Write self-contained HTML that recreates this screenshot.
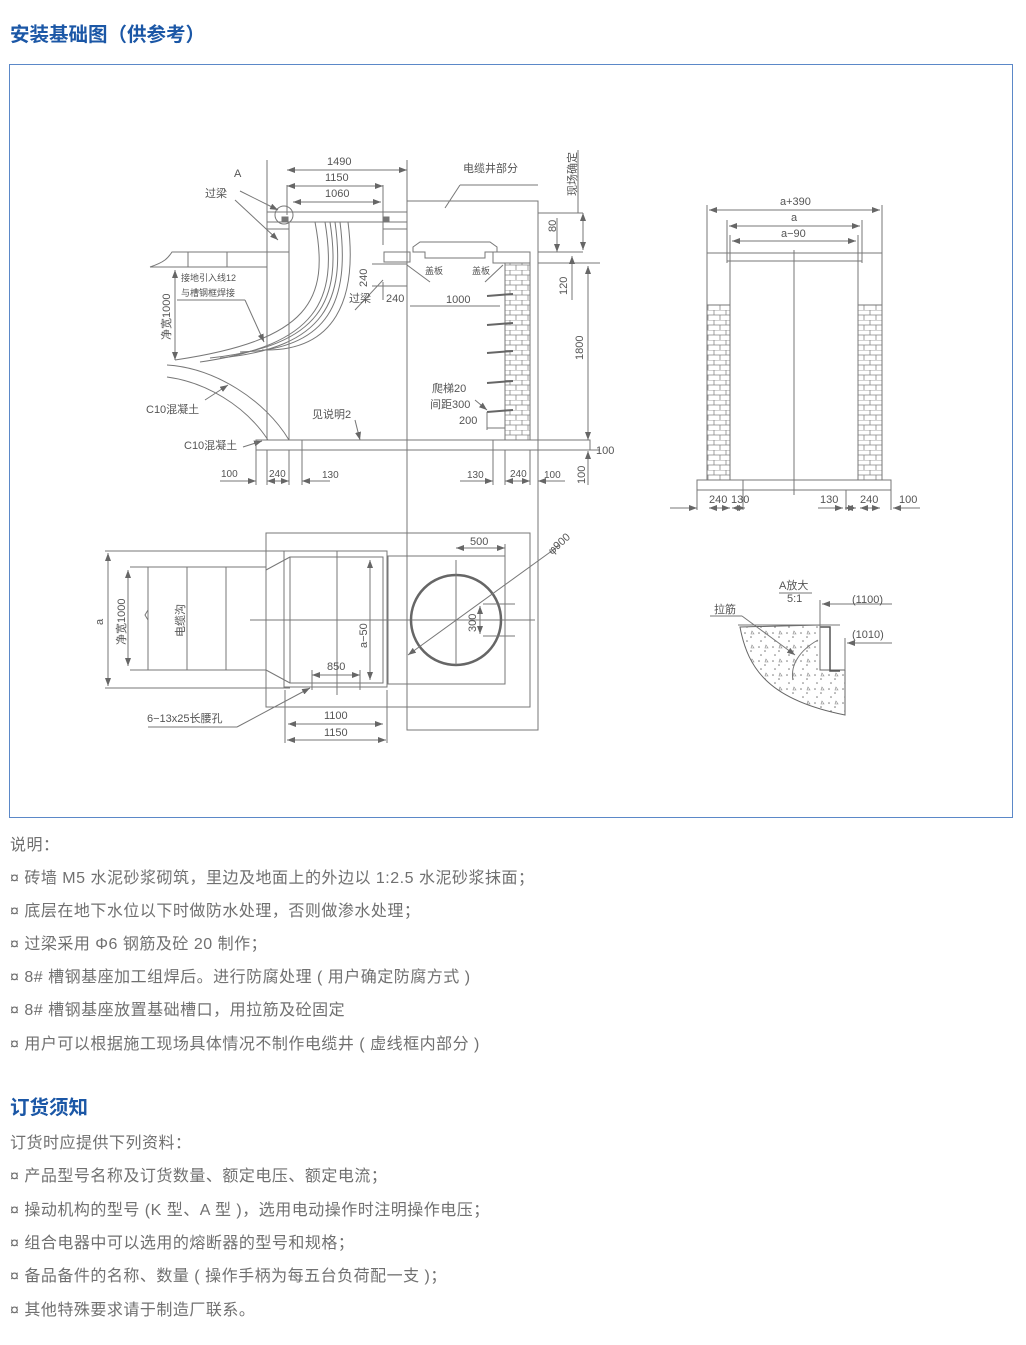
<!DOCTYPE html>
<html><head><meta charset="utf-8"><style>
body{margin:0;width:1026px;height:1345px;background:#fff;position:relative;font-family:"Liberation Sans","Noto Sans CJK SC",sans-serif;overflow:hidden}
.h{position:absolute;left:10px;font-size:19.5px;font-weight:bold;color:#1b57a6;margin:0;line-height:24px}
.box{position:absolute;left:9px;top:64px;width:1004px;height:754px;border:1px solid #5b88c8;box-sizing:border-box}
.t{position:absolute;left:10px;font-size:16px;color:#707070;line-height:20px;white-space:nowrap;letter-spacing:0.5px}
svg{position:absolute;left:0;top:0}
svg text{font-family:"Liberation Sans","Noto Sans CJK SC",sans-serif;font-size:11px;fill:#555}
</style></head><body>
<div class="h" style="top:23px">安装基础图（供参考）</div>
<div class="box"></div>
<svg width="1026" height="830" viewBox="0 0 1026 830">
<defs>
<pattern id="brk" width="12" height="10" patternUnits="userSpaceOnUse">
<rect width="12" height="10" fill="#fff"/>
<path d="M0 0H12M0 5H12M6 0V5M0 5V10M12 5V10" stroke="#888" stroke-width="0.8" fill="none"/>
</pattern>
<marker id="a" markerWidth="8" markerHeight="6" refX="8" refY="3" orient="auto-start-reverse" markerUnits="userSpaceOnUse"><path d="M0 0L8 3L0 6z" fill="#666"/></marker>
<pattern id="conc" width="14" height="14" patternUnits="userSpaceOnUse"><rect width="14" height="14" fill="#fff"/><circle cx="3" cy="3" r="0.8" fill="#777"/><circle cx="9" cy="7" r="0.8" fill="#777"/><circle cx="5" cy="11" r="0.8" fill="#777"/><path d="M10 1l2 3h-3z" fill="none" stroke="#888" stroke-width="0.6"/></pattern>
</defs>
<g stroke="#777" stroke-width="1" fill="none">
<line x1="267" y1="160" x2="267" y2="440"/>
<line x1="289" y1="222" x2="289" y2="440"/>
<line x1="407" y1="160" x2="407" y2="730"/>
<line x1="383" y1="185" x2="383" y2="245"/>
<line x1="287" y1="185" x2="287" y2="215"/>
<rect x="267" y="212" width="140" height="10"/>
<line x1="267" y1="229" x2="289" y2="229"/>
<line x1="383" y1="229" x2="407" y2="229"/>
<circle cx="284" cy="215" r="9"/>
<path d="M282 217h6v4h-6zM383 217h6v4h-6z" fill="#777"/>
<line x1="287" y1="170" x2="407" y2="170" marker-start="url(#a)" marker-end="url(#a)"/>
<line x1="287" y1="186" x2="383" y2="186" marker-start="url(#a)" marker-end="url(#a)"/>
<line x1="293" y1="202" x2="381" y2="202" marker-start="url(#a)" marker-end="url(#a)"/>
<path d="M150 267 C165 262 168 258 172 252 H289"/>
<line x1="150" y1="267" x2="267" y2="267"/>
<line x1="188" y1="252" x2="188" y2="267"/><line x1="227" y1="252" x2="227" y2="267"/>
<path d="M315 222 C330 300 310 340 175 360"/>
<path d="M325 222 C338 300 318 345 200 362"/>
<path d="M330 222 C342 300 322 346 210 358"/>
<path d="M335 222 C346 300 326 348 220 358"/>
<path d="M340 222 C350 300 330 350 240 352"/>
<path d="M348 222 C358 300 335 352 262 350"/>
<path d="M167 365 C215 368 265 400 289 440"/>
<path d="M167 377 C205 382 245 405 268 440"/>
<line x1="175" y1="270" x2="175" y2="360" marker-start="url(#a)" marker-end="url(#a)"/>
<line x1="177" y1="300" x2="245" y2="300"/><line x1="245" y1="300" x2="264" y2="342" marker-end="url(#a)"/>
<line x1="240" y1="191" x2="278" y2="210" marker-end="url(#a)"/>
<line x1="235" y1="200" x2="278" y2="240" marker-end="url(#a)"/>
<line x1="205" y1="400" x2="228" y2="385" marker-end="url(#a)"/>
<line x1="243" y1="447" x2="262" y2="441" marker-end="url(#a)"/>
<rect x="407" y="201" width="131" height="529"/>
<line x1="445" y1="208" x2="460" y2="185" /><line x1="460" y1="185" x2="538" y2="185"/>
<line x1="538" y1="213" x2="583" y2="213"/>
<line x1="538" y1="252" x2="583" y2="252"/>
<line x1="538" y1="263" x2="600" y2="263"/>
<line x1="578" y1="150" x2="578" y2="213"/>
<line x1="557" y1="218" x2="557" y2="252" marker-end="url(#a)"/>
<line x1="583" y1="213" x2="583" y2="250" marker-start="url(#a)" marker-end="url(#a)"/>
<line x1="572" y1="256" x2="572" y2="300" marker-start="url(#a)"/>
<line x1="588" y1="266" x2="588" y2="440" marker-start="url(#a)" marker-end="url(#a)"/>
<line x1="588" y1="451" x2="588" y2="485" marker-start="url(#a)"/>
<path d="M384 252H410V262H384z"/>
<path d="M413 247L420 242H490L497 247V252H485V258H425V252H413z"/>
<path d="M493 252H530V263H493z"/>
<rect x="505" y="263" width="25" height="177" fill="url(#brk)"/>
<line x1="407" y1="265" x2="430" y2="282"/><line x1="503" y1="265" x2="485" y2="282"/>
<line x1="372" y1="264" x2="407" y2="264"/><line x1="372" y1="286" x2="407" y2="286"/>
<line x1="383" y1="280" x2="355" y2="310"/><line x1="383" y1="300" x2="383" y2="282"/>
<line x1="410" y1="306" x2="500" y2="306"/>
<g stroke="#666" stroke-width="2"><line x1="487" y1="296" x2="513" y2="294"/><line x1="487" y1="325" x2="513" y2="323"/><line x1="487" y1="353" x2="513" y2="351"/><line x1="487" y1="383" x2="513" y2="381"/><line x1="487" y1="412" x2="513" y2="410"/></g>
<line x1="475" y1="400" x2="487" y2="410" marker-end="url(#a)"/>
<line x1="487" y1="412" x2="487" y2="430"/><line x1="487" y1="428" x2="505" y2="428"/>
<line x1="355" y1="420" x2="360" y2="440" marker-end="url(#a)"/>
<rect x="256" y="440" width="334" height="10"/>
<line x1="256" y1="450" x2="256" y2="485"/><line x1="267" y1="450" x2="267" y2="485"/><line x1="289" y1="450" x2="289" y2="485"/><line x1="302" y1="440" x2="302" y2="485"/>
<line x1="493" y1="440" x2="493" y2="485"/><line x1="505" y1="450" x2="505" y2="485"/><line x1="530" y1="450" x2="530" y2="485"/><line x1="538" y1="440" x2="538" y2="485"/>
<line x1="220" y1="481" x2="256" y2="481" marker-end="url(#a)"/>
<line x1="267" y1="481" x2="289" y2="481" marker-start="url(#a)" marker-end="url(#a)"/>
<line x1="302" y1="481" x2="330" y2="481" marker-start="url(#a)"/>
<line x1="460" y1="481" x2="493" y2="481" marker-end="url(#a)"/>
<line x1="505" y1="481" x2="530" y2="481" marker-start="url(#a)" marker-end="url(#a)"/>
<line x1="538" y1="481" x2="565" y2="481" marker-start="url(#a)"/>
<line x1="538" y1="450" x2="600" y2="450"/>
<rect x="266" y="533" width="264" height="174"/>
<rect x="284" y="551" width="103" height="136"/>
<rect x="290" y="557" width="93" height="126"/>
<rect x="148" y="567" width="118" height="103"/>
<line x1="187" y1="567" x2="187" y2="670"/><line x1="226" y1="567" x2="226" y2="670"/>
<line x1="266" y1="570" x2="290" y2="557"/><line x1="266" y1="670" x2="290" y2="683"/>
<line x1="105" y1="551" x2="290" y2="551"/><line x1="105" y1="688" x2="290" y2="688"/>
<line x1="108" y1="553" x2="108" y2="686" marker-start="url(#a)" marker-end="url(#a)"/>
<line x1="130" y1="567" x2="148" y2="567"/><line x1="130" y1="670" x2="148" y2="670"/>
<line x1="128" y1="570" x2="128" y2="666" marker-start="url(#a)" marker-end="url(#a)"/>
<path d="M148 610 l-3 5 l3 5"/>
<line x1="250" y1="620" x2="535" y2="620"/>
<line x1="337" y1="551" x2="337" y2="695"/>
<line x1="370" y1="560" x2="370" y2="680" marker-start="url(#a)" marker-end="url(#a)"/>
<line x1="312" y1="675" x2="360" y2="675" marker-start="url(#a)" marker-end="url(#a)"/>
<line x1="312" y1="670" x2="312" y2="690"/><line x1="360" y1="670" x2="360" y2="690"/>
<line x1="148" y1="727" x2="237" y2="727"/><line x1="237" y1="727" x2="310" y2="688" marker-end="url(#a)"/>
<line x1="285" y1="690" x2="285" y2="743"/><line x1="387" y1="690" x2="387" y2="743"/>
<line x1="288" y1="724" x2="383" y2="724" marker-start="url(#a)" marker-end="url(#a)"/>
<line x1="287" y1="740" x2="386" y2="740" marker-start="url(#a)" marker-end="url(#a)"/>
<rect x="388" y="556" width="117" height="128"/>
<circle cx="456" cy="620" r="45" stroke="#666" stroke-width="2.5"/>
<line x1="456" y1="560" x2="456" y2="665"/>
<line x1="456" y1="548" x2="505" y2="548" marker-start="url(#a)" marker-end="url(#a)"/>
<line x1="505" y1="544" x2="505" y2="556"/>
<line x1="408" y1="655" x2="560" y2="545" marker-start="url(#a)"/>
<line x1="483" y1="604" x2="515" y2="604"/><line x1="483" y1="636" x2="515" y2="636"/>
<line x1="480" y1="606" x2="480" y2="634" marker-start="url(#a)" marker-end="url(#a)"/>
<line x1="707" y1="205" x2="707" y2="480"/><line x1="882" y1="205" x2="882" y2="480"/>
<line x1="727" y1="220" x2="727" y2="263"/><line x1="862" y1="220" x2="862" y2="263"/>
<line x1="730" y1="235" x2="730" y2="480"/><line x1="858" y1="235" x2="858" y2="480"/>
<line x1="707" y1="253" x2="882" y2="253"/><line x1="727" y1="261" x2="862" y2="261"/>
<line x1="709" y1="210" x2="880" y2="210" marker-start="url(#a)" marker-end="url(#a)"/>
<line x1="729" y1="226" x2="860" y2="226" marker-start="url(#a)" marker-end="url(#a)"/>
<line x1="732" y1="241" x2="856" y2="241" marker-start="url(#a)" marker-end="url(#a)"/>
<line x1="794" y1="250" x2="794" y2="495"/>
<rect x="707" y="305" width="23" height="175" fill="url(#brk)"/>
<rect x="858" y="305" width="24" height="175" fill="url(#brk)"/>
<rect x="697" y="480" width="194" height="10"/>
<line x1="697" y1="490" x2="697" y2="510"/><line x1="743" y1="480" x2="743" y2="510"/><line x1="846" y1="490" x2="846" y2="510"/><line x1="891" y1="490" x2="891" y2="510"/>
<line x1="670" y1="508" x2="697" y2="508" marker-end="url(#a)"/>
<line x1="709" y1="508" x2="730" y2="508" marker-start="url(#a)" marker-end="url(#a)"/>
<line x1="732" y1="508" x2="745" y2="508" marker-start="url(#a)" marker-end="url(#a)"/>
<line x1="818" y1="508" x2="843" y2="508" marker-end="url(#a)"/>
<line x1="845" y1="508" x2="856" y2="508" marker-start="url(#a)" marker-end="url(#a)"/>
<line x1="860" y1="508" x2="880" y2="508" marker-start="url(#a)" marker-end="url(#a)"/>
<line x1="893" y1="508" x2="920" y2="508" marker-start="url(#a)"/>
<line x1="779" y1="593" x2="812" y2="593"/>
<path d="M740 627 C748 670 770 700 845 715 V670 H820 V625 Z" fill="url(#conc)" stroke="#666"/>
<line x1="738" y1="625" x2="840" y2="625"/>
<path d="M820 627h10v44h10" stroke="#555" stroke-width="1.5"/>
<line x1="820" y1="600" x2="820" y2="660"/><line x1="845" y1="638" x2="845" y2="670"/>
<line x1="822" y1="604" x2="892" y2="604" marker-start="url(#a)"/>
<line x1="847" y1="643" x2="892" y2="643" marker-start="url(#a)"/>
<line x1="710" y1="616" x2="742" y2="616"/><line x1="742" y1="616" x2="795" y2="655" marker-end="url(#a)"/>
<path d="M818 640 C800 650 790 665 793 680"/>
</g>
<g>
<text x="327" y="165">1490</text><text x="325" y="181">1150</text><text x="325" y="197">1060</text>
<text x="234" y="177">A</text><text x="205" y="197">过梁</text>
<text x="463" y="172">电缆井部分</text>
<text x="0" y="0" transform="translate(576,196) rotate(-90)">现场确定</text>
<text x="0" y="0" transform="translate(556,232) rotate(-90)">80</text>
<text x="0" y="0" transform="translate(567,295) rotate(-90)">120</text>
<text x="0" y="0" transform="translate(583,360) rotate(-90)">1800</text>
<text x="0" y="0" transform="translate(367,287) rotate(-90)">240</text>
<text x="0" y="0" transform="translate(170,340) rotate(-90)">净宽1000</text>
<text x="0" y="0" transform="translate(585,484) rotate(-90)">100</text>
<text x="425" y="274" style="font-size:9px">盖板</text><text x="472" y="274" style="font-size:9px">盖板</text>
<text x="181" y="281" style="font-size:9px">接地引入线12</text><text x="181" y="296" style="font-size:9px">与槽钢框焊接</text>
<text x="349" y="302">过梁</text><text x="386" y="302">240</text><text x="446" y="303">1000</text>
<text x="432" y="392">爬梯20</text><text x="430" y="408">间距300</text><text x="459" y="424">200</text>
<text x="146" y="413">C10混凝土</text><text x="312" y="418">见说明2</text><text x="184" y="449">C10混凝土</text>
<text x="596" y="454">100</text>
<text x="221" y="477" style="font-size:10px">100</text><text x="269" y="477" style="font-size:10px">240</text><text x="322" y="478" style="font-size:10px">130</text>
<text x="467" y="478" style="font-size:10px">130</text><text x="510" y="477" style="font-size:10px">240</text><text x="544" y="478" style="font-size:10px">100</text>
<text x="470" y="545">500</text>
<text x="0" y="0" transform="translate(552,555) rotate(-42)">φ900</text>
<text x="0" y="0" transform="translate(103,625) rotate(-90)">a</text>
<text x="0" y="0" transform="translate(125,645) rotate(-90)">净宽1000</text>
<text x="0" y="0" transform="translate(184,637) rotate(-90)">电缆沟</text>
<text x="0" y="0" transform="translate(367,648) rotate(-90)">a−50</text>
<text x="0" y="0" transform="translate(476,632) rotate(-90)">300</text>
<text x="327" y="670">850</text>
<text x="147" y="722">6−13x25长腰孔</text>
<text x="324" y="719">1100</text><text x="324" y="736">1150</text>
<text x="780" y="205">a+390</text><text x="791" y="221">a</text><text x="781" y="237">a−90</text>
<text x="709" y="503">240</text><text x="731" y="503">130</text><text x="820" y="503">130</text><text x="860" y="503">240</text><text x="899" y="503">100</text>
<text x="779" y="589">A放大</text><text x="787" y="602">5:1</text>
<text x="714" y="613">拉筋</text><text x="852" y="603">(1100)</text><text x="852" y="638">(1010)</text>
</g>
</svg>
<div class="t" style="top:836px">说明：</div>
<div class="t" style="top:869px">¤ 砖墙 M5 水泥砂浆砌筑，里边及地面上的外边以 1:2.5 水泥砂浆抹面；</div>
<div class="t" style="top:902px">¤ 底层在地下水位以下时做防水处理，否则做渗水处理；</div>
<div class="t" style="top:935px">¤ 过梁采用 Φ6 钢筋及砼 20 制作；</div>
<div class="t" style="top:968px">¤ 8# 槽钢基座加工组焊后。进行防腐处理 ( 用户确定防腐方式 )</div>
<div class="t" style="top:1001px">¤ 8# 槽钢基座放置基础槽口，用拉筋及砼固定</div>
<div class="t" style="top:1035px">¤ 用户可以根据施工现场具体情况不制作电缆井 ( 虚线框内部分 )</div>
<div class="h" style="top:1096px">订货须知</div>
<div class="t" style="top:1134px">订货时应提供下列资料：</div>
<div class="t" style="top:1167px">¤ 产品型号名称及订货数量、额定电压、额定电流；</div>
<div class="t" style="top:1201px">¤ 操动机构的型号 (K 型、A 型 )，选用电动操作时注明操作电压；</div>
<div class="t" style="top:1234px">¤ 组合电器中可以选用的熔断器的型号和规格；</div>
<div class="t" style="top:1267px">¤ 备品备件的名称、数量 ( 操作手柄为每五台负荷配一支 )；</div>
<div class="t" style="top:1301px">¤ 其他特殊要求请于制造厂联系。</div>
</body></html>
